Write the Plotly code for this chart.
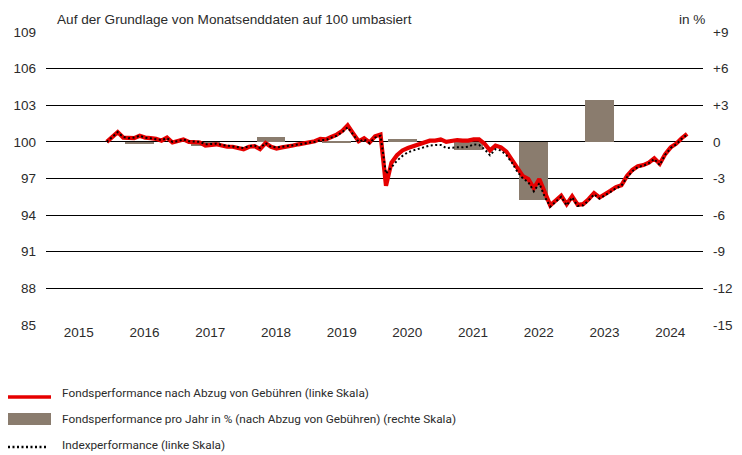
import plotly.graph_objects as go

# ---------------- data ----------------
START_YEAR = 2016.0  # first month-end (Dec 2015) as decimal year
fund = [
    100.0, 100.4, 100.8, 100.35, 100.3, 100.3, 100.5, 100.35, 100.3, 100.25, 100.1, 100.35,
    99.95, 100.05, 100.2, 100.0, 99.95, 99.95, 99.7, 99.75, 99.8, 99.7, 99.6, 99.6,
    99.5, 99.4, 99.6, 99.65, 99.4, 99.9, 99.6, 99.45, 99.55, 99.6, 99.7, 99.8,
    99.9, 100.0, 100.05, 100.25, 100.2, 100.4, 100.6, 100.9, 101.35, 100.7, 100.05, 100.3,
    99.95, 100.45, 100.6, 96.4, 98.3, 98.9, 99.3, 99.5, 99.65, 99.8, 100.0, 100.1,
    100.1, 100.2, 100.0, 100.1, 100.15, 100.1, 100.1, 100.2, 100.2, 99.85, 99.3, 99.7,
    99.55, 99.2, 98.55, 97.8, 97.2, 96.95, 96.2, 96.95, 95.8, 94.8, 95.2, 95.6,
    94.9, 95.55, 94.85, 94.9, 95.3, 95.8, 95.45, 95.7, 96.0, 96.3, 96.45, 97.2,
    97.7, 98.0, 98.1, 98.3, 98.65, 98.2, 99.0, 99.55, 99.85, 100.3, 100.65,
]
index = [
    100.0, 100.4, 100.8, 100.4, 100.3, 100.35, 100.5, 100.35, 100.3, 100.25, 100.15, 100.3,
    100.0, 100.05, 100.2, 100.05, 100.0, 100.0, 99.8, 99.8, 99.85, 99.75, 99.7, 99.65,
    99.6, 99.5, 99.65, 99.7, 99.5, 99.9, 99.6, 99.55, 99.6, 99.65, 99.75, 99.8,
    99.85, 99.95, 100.0, 100.15, 100.15, 100.35, 100.5, 100.8, 101.2, 100.6, 100.0, 100.2,
    99.9, 100.35, 100.5, 97.4, 97.9, 98.45, 98.85, 99.15, 99.3, 99.45, 99.6, 99.7,
    99.75, 99.75, 99.5, 99.55, 99.55, 99.55, 99.6, 99.8, 99.75, 99.4, 98.9, 99.4,
    99.3, 98.9, 98.3, 97.55, 97.0, 96.7, 95.95, 96.6, 95.5, 94.7, 95.1, 95.5,
    94.8, 95.45, 94.75, 94.8, 95.2, 95.7, 95.35, 95.6, 95.9, 96.2, 96.4, 97.1,
    97.6, 97.95, 98.05, 98.25, 98.6, 98.1, 98.95, 99.5, 99.8, 100.25, 100.6,
]
bar_years = [2016, 2017, 2018, 2019, 2020, 2021, 2022, 2023]
bar_values = [-0.2, -0.35, 0.4, -0.1, 0.25, -0.7, -4.8, 3.4]
axis_years = [2015, 2016, 2017, 2018, 2019, 2020, 2021, 2022, 2023, 2024]
left_ticks = [85, 88, 91, 94, 97, 100, 103, 106, 109]
right_ticks = [-15, -12, -9, -6, -3, 0, 3, 6, 9]
right_labels = ["-15", "-12", "-9", "-6", "-3", "0", "+3", "+6", "+9"]

title_text = "Auf der Grundlage von Monatsenddaten auf 100 umbasiert"
unit_text = "in %"
legend_texts = [
    "Fondsperformance nach Abzug von Gebühren (linke Skala)",
    "Fondsperformance pro Jahr in % (nach Abzug von Gebühren) (rechte Skala)",
    "Indexperformance (linke Skala)",
]

RED = "#e60000"
BAR = "#8a7c6e"
TXT = "#2b2b2b"
TICK_FONT = dict(family="Liberation Sans, Arial, sans-serif", size=13.5, color=TXT)
TITLE_FONT = dict(family="Liberation Sans, Arial, sans-serif", size=13.6, color=TXT)
LEG_FONT = dict(family="Roboto, Liberation Sans, sans-serif", size=11.8, color=TXT)

xs = [START_YEAR + i / 12 for i in range(len(fund))]
bar_x = [y + 0.5 for y in bar_years]

fig = go.Figure()
fig.add_trace(go.Bar(x=bar_x, y=bar_values, width=0.44, marker=dict(color=BAR, line=dict(width=0)),
                     yaxis="y", showlegend=False, name=legend_texts[1]))
fig.add_trace(go.Scatter(x=xs, y=fund, mode="lines", line=dict(color=RED, width=4.2),
                         yaxis="y2", showlegend=False, name=legend_texts[0]))
fig.add_trace(go.Scatter(x=xs, y=index, mode="lines", line=dict(color="#000000", width=2, dash="2px,2.5px"),
                         yaxis="y2", showlegend=False, name=legend_texts[2]))

XOFF = 0.075
fig.update_layout(
    width=742, height=455,
    margin=dict(l=46, r=39, t=32, b=130),
    paper_bgcolor="white", plot_bgcolor="white",
    showlegend=False,
    xaxis=dict(range=[2015 + XOFF, 2025 + XOFF], tickvals=[y + 0.5 + XOFF for y in axis_years],
               ticktext=[str(y) for y in axis_years], showgrid=False, zeroline=False, showline=False,
               ticks="", tickfont=TICK_FONT, fixedrange=True, automargin=False, ticklabelstandoff=-3),
    yaxis=dict(side="right", range=[-15, 9], tickvals=right_ticks, ticktext=right_labels,
               showgrid=True, gridcolor="#000000", gridwidth=1, zeroline=False, showline=False,
               ticks="", tickfont=TICK_FONT, automargin=False, ticklabelstandoff=9),
    yaxis2=dict(side="left", overlaying="y", range=[85, 109], tickvals=left_ticks,
                ticktext=[str(v) for v in left_ticks], showgrid=False, zeroline=False,
                showline=False, ticks="", tickfont=TICK_FONT, automargin=False, ticklabelstandoff=9),
    bargap=0,
)

PW, PH, PB, PL = 657.0, 293.0, 325.0, 46.0
def px(x):
    return (x - PL) / PW
def py(y):
    return (PB - y) / PH

annots = [
    dict(text=title_text, x=px(55), y=py(19), xanchor="left", yanchor="middle", font=TITLE_FONT),
    dict(text=unit_text, x=px(707), y=py(19), xanchor="right", yanchor="middle", font=TITLE_FONT),
]
for t, yc in zip(legend_texts, [393, 419, 445]):
    annots.append(dict(text=t, x=px(60), y=py(yc), xanchor="left", yanchor="middle", font=LEG_FONT))
for a in annots:
    a.update(xref="paper", yref="paper", showarrow=False)
fig.update_layout(annotations=annots)

shapes = [
    dict(type="line", x0=px(8), x1=px(51), y0=py(397), y1=py(397), line=dict(color=RED, width=3.5)),
    dict(type="rect", x0=px(8), x1=px(51), y0=py(413), y1=py(425), fillcolor=BAR, line=dict(width=0)),
    dict(type="line", x0=px(8), x1=px(48), y0=py(447), y1=py(447),
         line=dict(color="#000000", width=2.5, dash="2px,2.5px")),
]
for s in shapes:
    s.update(xref="paper", yref="paper")
fig.update_layout(shapes=shapes)

fig.write_html("out.html", config={"displayModeBar": False},
               post_script="document.body.style.margin='0px';document.body.style.padding='0px';")
